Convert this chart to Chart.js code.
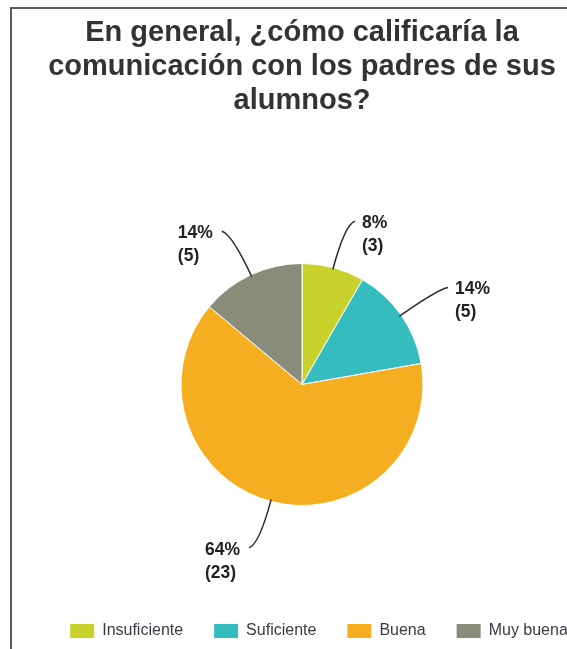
<!DOCTYPE html>
<html>
<head>
<meta charset="utf-8">
<script src="https://cdn.jsdelivr.net/npm/chart.js@4/dist/chart.umd.min.js"></script>
<style>
  html, body { margin: 0; padding: 0; background: #fff; overflow: hidden; }
  #wrap { position: relative; width: 567px; height: 649px; overflow: hidden; }
  #frame { position: absolute; left: 10px; top: 7px; width: 600px; height: 700px;
           border-top: 2px solid #5a5a5a; border-left: 2px solid #5a5a5a; }
  #box { position: absolute; left: 0; top: 0; width: 604px; height: 649px; }
</style>
</head>
<body>
<div id="wrap">
  <div id="frame"></div>
  <div id="box"><canvas id="pie"></canvas></div>
</div>
<script>
const categories = ['Insuficiente', 'Suficiente', 'Buena', 'Muy buena'];
const counts = [3, 5, 23, 5];
const colors = ['#c9d22b', '#35bcbf', '#f6ae21', '#8a8c7b'];
const titleLines = ['En general, ¿cómo calificaría la', 'comunicación con los padres de sus', 'alumnos?'];

const FONT = "Arial, 'Liberation Sans', sans-serif";

// callout lines + "xx% (n)" labels
const calloutPlugin = {
    id: 'callouts',
    afterDatasetsDraw(chart) {
        const ctx = chart.ctx;
        const meta = chart.getDatasetMeta(0);
        const total = counts.reduce((a, b) => a + b, 0);

        meta.data.forEach((arc, i) => {
            const p = arc.getProps(['x', 'y', 'startAngle', 'endAngle', 'outerRadius'], true);
            const mid = (p.startAngle + p.endAngle) / 2;
            const cos = Math.cos(mid), sin = Math.sin(mid);
            const right = cos >= 0;

            const x0 = p.x + cos * (p.outerRadius - 2), y0 = p.y + sin * (p.outerRadius - 2);
            const x1 = p.x + cos * (p.outerRadius + 45), y1 = p.y + sin * (p.outerRadius + 45);
            const x2 = x1 + (right ? 10 : -10), y2 = y1 + sin * 3;

            ctx.save();
            ctx.strokeStyle = '#2a2a2a';
            ctx.lineWidth = 1.5;
            ctx.beginPath();
            ctx.moveTo(x0, y0);
            ctx.quadraticCurveTo(x1, y1, x2, y2);
            ctx.stroke();

            ctx.fillStyle = '#222';
            ctx.font = 'bold 17.5px ' + FONT;
            ctx.textBaseline = 'middle';
            ctx.textAlign = 'left';
            const pct = Math.round(counts[i] / total * 100) + '%';
            const cnt = '(' + counts[i] + ')';
            const w = Math.max(ctx.measureText(pct).width, ctx.measureText(cnt).width);
            const tx = right ? x2 + 7 : x2 - 9 - w;
            ctx.fillText(pct, tx, y2 + 2);
            ctx.fillText(cnt, tx, y2 + 25);
            ctx.restore();
        });
    }
};

// nudge the legend to where it sits in the picture
const legendNudge = {
    id: 'legendNudge',
    afterLayout(chart) {
        const lg = chart.legend;
        const dx = 17;
        const dy = 592 - lg.top;
        lg.left += dx; lg.right += dx;
        lg.top += dy; lg.bottom += dy;
    }
};

new Chart(document.getElementById('pie'), {
    type: 'pie',
    data: {
        labels: categories,
        datasets: [{
            data: counts,
            backgroundColor: colors,
            borderColor: '#ffffff',
            borderWidth: 1,
            radius: 121
        }]
    },
    options: {
        responsive: true,
        maintainAspectRatio: false,
        animation: false,
        layout: { padding: 0 },
        plugins: {
            title: {
                display: true,
                text: titleLines,
                color: '#333',
                font: { family: FONT, size: 29, weight: 'bold', lineHeight: 1.172 },
                padding: { top: 16, bottom: 59 }
            },
            legend: {
                position: 'bottom',
                labels: {
                    boxWidth: 24,
                    boxHeight: 14,
                    padding: 31,
                    color: '#3a3a44',
                    font: { family: FONT, size: 16 },
                    useBorderRadius: true,
                    borderRadius: 3,
                    generateLabels(chart) {
                        return categories.map((c, i) => ({
                            text: c,
                            fillStyle: colors[i],
                            strokeStyle: colors[i],
                            lineWidth: 0,
                            fontColor: '#3a3a44',
                            index: i
                        }));
                    }
                }
            },
            tooltip: { enabled: false }
        }
    },
    plugins: [calloutPlugin, legendNudge]
});
</script>
</body>
</html>
